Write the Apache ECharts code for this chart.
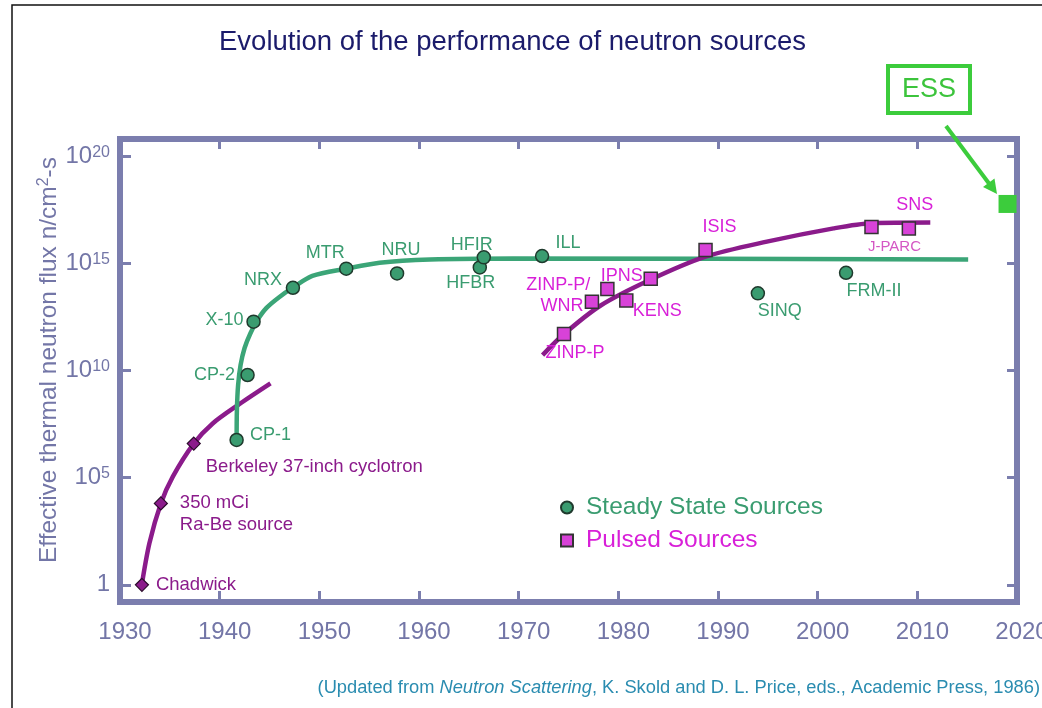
<!DOCTYPE html>
<html>
<head>
<meta charset="utf-8">
<title>Evolution of the performance of neutron sources</title>
<script src="https://cdn.jsdelivr.net/npm/echarts@6.0.0/dist/echarts.min.js"></script>
<style>
  html, body { margin: 0; padding: 0; background: #fff; }
  #main { width: 1042px; height: 708px; }
</style>
</head>
<body>
<div id="main"></div>
<script>
// values are [year, log10 of flux in n/cm2-s]

// steady state sources (circles)
const steadyNames = ['CP-1', 'CP-2', 'X-10', 'NRX', 'MTR', 'NRU', 'HFBR', 'HFIR', 'ILL', 'SINQ', 'FRM-II']
const steadyYears = [1941.7, 1942.8, 1943.4, 1947.35, 1952.7, 1957.8, 1966.1, 1966.5, 1972.35, 1994.0, 2002.85]
const steadyFlux = [6.76, 9.79, 12.28, 13.86, 14.75, 14.53, 14.81, 15.28, 15.34, 13.6, 14.56]

// pulsed sources (squares)
const pulsedNames = ['ZINP-P', 'WNR', 'ZINP-P/', 'KENS', 'IPNS', 'ISIS', 'J-PARC', 'SNS']
const pulsedYears = [1974.55, 1977.35, 1978.9, 1980.8, 1983.25, 1988.75, 2005.4, 2009.15]
const pulsedFlux = [11.7, 13.21, 13.8, 13.26, 14.28, 15.62, 16.69, 16.63]

// early sources (diamonds)
const earlyNames = ['Chadwick', '350 mCi\nRa-Be source', 'Berkeley 37-inch cyclotron']
const earlyYears = [1932.2, 1934.1, 1937.4]
const earlyFlux = [0, 3.8, 6.59]

// ESS
const essYears = [2019.05]
const essFlux = [17.77]

// trend curves
const earlyCurveYears = [1932.15, 1932.95, 1934.1, 1935.3, 1937.4, 1939.3, 1942.0, 1945.1]
const earlyCurveFlux = [-0.1, 1.94, 3.8, 5.05, 6.59, 7.53, 8.44, 9.4]

const steadyCurveYears = [1941.7, 1941.73, 1941.85, 1942.1, 1942.5, 1943.1, 1943.8, 1944.7, 1946.0, 1947.3, 1949.3, 1952.7, 1956.05, 1961.1, 1969.4, 2015.1]
const steadyCurveFlux = [6.76, 8.16, 9.32, 10.26, 11.05, 11.75, 12.36, 12.92, 13.43, 13.85, 14.41, 14.75, 15.03, 15.18, 15.23, 15.18]

const pulsedCurveYears = [1972.4, 1974.55, 1978.15, 1983.15, 1988.75, 1994.9, 2001.6, 2005.4, 2011.3]
const pulsedCurveFlux = [10.72, 11.7, 13.01, 14.22, 15.31, 16.01, 16.63, 16.87, 16.9]

// tick labels
const yTickValues = [0, 5, 10, 15, 20]

const frameColor = '#7b7eae'
const axisTextColor = '#7376a7'
const green = '#3a9c70'
const greenLine = '#3ba577'
const magenta = '#d81fd8'
const purple = '#8b1b8b'
const essGreen = '#3ccc3c'
const font = '"Liberation Sans", Arial, sans-serif'

// label offsets around each point: [dx, dy, align]
const labelLayout = {
  'CP-1': [34, -5], 'CP-2': [-33, 0], 'X-10': [-29, -2], 'NRX': [-30, -8],
  'MTR': [-21, -16], 'NRU': [4, -23], 'HFBR': [-9, 16], 'HFIR': [-12, -12],
  'ILL': [26, -13], 'SINQ': [22, 18], 'FRM-II': [28, 18],
  'ZINP-P': [11, 19], 'WNR': [-30, 4], 'ZINP-P/': [-49, -4], 'KENS': [31, 10],
  'IPNS': [-29, -3], 'ISIS': [14, -23], 'J-PARC': [23, 20], 'SNS': [6, -23],
  'Chadwick': [14, 0, 'left'], '350 mCi\nRa-Be source': [19, 11, 'left'],
  'Berkeley 37-inch cyclotron': [12, 23, 'left']
}

function zipPairs (xs, ys) {
  return xs.map((x, i) => [x, ys[i]])
}

function buildPoints (names, years, flux) {
  return names.map((name, i) => {
    const l = labelLayout[name] || [0, 0]
    const item = {
      name: name,
      value: [years[i], flux[i]],
      label: { offset: [l[0], l[1]], align: l[2] || 'center' }
    }
    // J-PARC is written smaller and paler
    if (name === 'J-PARC') {
      item.label.fontSize = 15
      item.label.color = '#d457c4'
    }
    return item
  })
}

function pointLabel (color, size) {
  return {
    show: true,
    position: 'inside',
    formatter: p => p.name,
    color: color,
    fontSize: size,
    fontFamily: font,
    lineHeight: 22,
    verticalAlign: 'middle'
  }
}

function frameAxis (pos, isX, tickLen) {
  const axis = {
    type: 'value',
    position: pos,
    axisLine: { show: false, onZero: false },
    axisTick: { show: true, inside: true, length: tickLen, lineStyle: { color: frameColor, width: 3 } },
    axisLabel: { show: false },
    splitLine: { show: false }
  }
  if (isX) {
    axis.min = 1930
    axis.max = 2020
    axis.interval = 10
  } else {
    axis.min = -0.8
    axis.max = 20.8
    axis.axisTick.customValues = yTickValues
  }
  return axis
}

const xBottom = frameAxis('bottom', true, 11)
xBottom.axisLabel = {
  show: true,
  color: axisTextColor,
  fontSize: 24,
  fontFamily: font,
  margin: 18,
  padding: [0, 0, 0, 10],
  formatter: v => String(v)
}
const xTop = frameAxis('top', true, 10)

const yLeft = frameAxis('left', false, 11)
yLeft.axisLabel = {
  show: true,
  customValues: yTickValues,
  margin: 10,
  formatter: v => v === 0 ? '{b|1}' : '{b|10}{s|' + v + '}',
  rich: {
    b: { fontSize: 24, color: axisTextColor, fontFamily: font, lineHeight: 24, verticalAlign: 'middle' },
    s: { fontSize: 16, color: axisTextColor, fontFamily: font, lineHeight: 16, verticalAlign: 'top' }
  }
}
const yRight = frameAxis('right', false, 10)

function curve (name, xs, ys, color) {
  return {
    name: name,
    type: 'line',
    data: zipPairs(xs, ys),
    smooth: 0.3,
    showSymbol: false,
    silent: true,
    lineStyle: { color: color, width: 4.5 },
    z: 2
  }
}

const option = {
  animation: false,
  backgroundColor: '#ffffff',
  title: {
    text: 'Evolution of the performance of neutron sources',
    left: 214,
    top: 23,
    textStyle: { color: '#1b1b6b', fontSize: 27.5, fontWeight: 'normal', fontFamily: font }
  },
  grid: {
    left: 120,
    right: 25,
    top: 139,
    bottom: 106,
    outerBoundsMode: 'none',
    show: true,
    borderColor: frameColor,
    borderWidth: 6,
    backgroundColor: 'transparent'
  },
  legend: {
    orient: 'vertical',
    left: 560,
    top: 495,
    padding: 0,
    itemWidth: 12,
    itemHeight: 12,
    itemGap: 8,
    selectedMode: false,
    data: [
      { name: 'Steady State Sources', icon: 'circle', textStyle: { color: green } },
      { name: 'Pulsed Sources', icon: 'rect', textStyle: { color: magenta } }
    ],
    textStyle: { fontSize: 24.5, fontFamily: font, lineHeight: 24, padding: [0, 0, 0, 8] }
  },
  xAxis: [xBottom, xTop],
  yAxis: [yLeft, yRight],
  series: [
    curve('early curve', earlyCurveYears, earlyCurveFlux, purple),
    curve('steady curve', steadyCurveYears, steadyCurveFlux, greenLine),
    curve('pulsed curve', pulsedCurveYears, pulsedCurveFlux, purple),
    {
      name: 'Early sources',
      type: 'scatter',
      symbol: 'diamond',
      symbolSize: 13,
      data: buildPoints(earlyNames, earlyYears, earlyFlux),
      itemStyle: { color: purple, borderColor: '#2a0a2a', borderWidth: 1.2, opacity: 1 },
      label: pointLabel(purple, 18.5),
      z: 4
    },
    {
      name: 'Steady State Sources',
      type: 'scatter',
      symbol: 'circle',
      symbolSize: 13,
      data: buildPoints(steadyNames, steadyYears, steadyFlux),
      itemStyle: { color: green, borderColor: '#1f3a2d', borderWidth: 1.5, opacity: 1 },
      label: pointLabel(green, 18),
      z: 4
    },
    {
      name: 'Pulsed Sources',
      type: 'scatter',
      symbol: 'rect',
      symbolSize: 13,
      data: buildPoints(pulsedNames, pulsedYears, pulsedFlux),
      itemStyle: { color: '#d842d8', borderColor: '#333333', borderWidth: 1.5, opacity: 1 },
      label: pointLabel(magenta, 18),
      z: 4
    },
    {
      name: 'ESS',
      type: 'scatter',
      symbol: 'rect',
      symbolSize: 18,
      clip: false,
      data: zipPairs(essYears, essFlux),
      itemStyle: { color: essGreen, opacity: 1 },
      z: 5
    }
  ],
  graphic: [
    // slide border
    {
      type: 'polyline',
      shape: { points: [[12, 708], [12, 5], [1042, 5]] },
      style: { stroke: '#111', lineWidth: 1.5, fill: null },
      silent: true
    },
    // y axis title
    {
      type: 'text',
      x: 49,
      y: 360,
      rotation: Math.PI / 2,
      style: {
        text: '{t|Effective thermal neutron flux n/cm}{s|2}{t|-s}',
        align: 'center',
        verticalAlign: 'middle',
        rich: {
          t: { fontSize: 24.5, fill: axisTextColor, fontFamily: font, lineHeight: 26, verticalAlign: 'middle' },
          s: { fontSize: 16, fill: axisTextColor, fontFamily: font, lineHeight: 16, verticalAlign: 'top' }
        }
      }
    },
    // ESS box
    {
      type: 'rect',
      shape: { x: 888, y: 66, width: 82, height: 47 },
      style: { fill: '#fff', stroke: essGreen, lineWidth: 4 }
    },
    {
      type: 'text',
      x: 929,
      y: 90,
      style: { text: 'ESS', fontSize: 27, fontFamily: font, fill: '#3cc43c', align: 'center', verticalAlign: 'middle' }
    },
    // arrow towards ESS point
    {
      type: 'line',
      shape: { x1: 946, y1: 126, x2: 989, y2: 183.5 },
      style: { stroke: essGreen, lineWidth: 4 }
    },
    {
      type: 'polygon',
      shape: { points: [[997, 194], [983, 187], [994.5, 178.5]] },
      style: { fill: essGreen }
    },
    // source note
    {
      type: 'text',
      x: 1040,
      y: 688,
      style: {
        text: '{n|(Updated from }{i|Neutron Scattering}{n|, K. Skold and D. L. Price, eds., Academic Press, 1986)}',
        align: 'right',
        verticalAlign: 'middle',
        rich: {
          n: { fontSize: 18.3, fill: '#2a8cb0', fontFamily: font },
          i: { fontSize: 18.3, fill: '#2a8cb0', fontFamily: font, fontStyle: 'italic' }
        }
      }
    }
  ]
}

const chart = echarts.init(document.getElementById('main'))
chart.setOption(option)
</script>
</body>
</html>
